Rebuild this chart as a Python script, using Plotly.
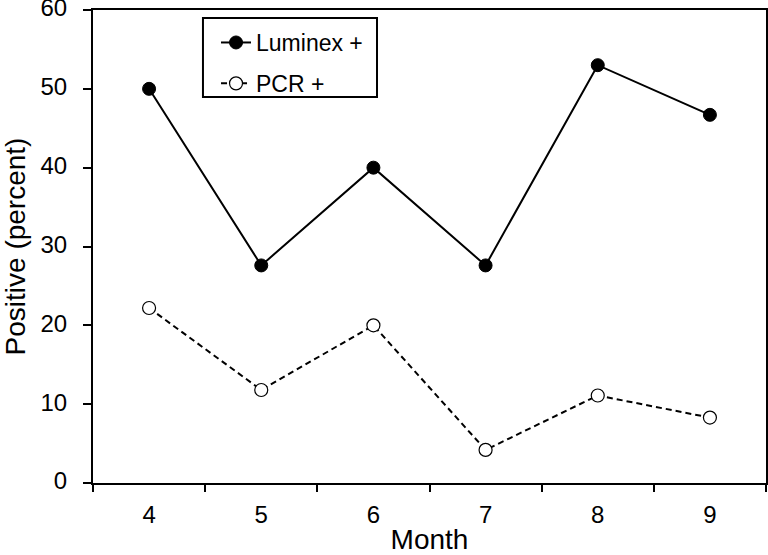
import plotly.graph_objects as go

months = [4, 5, 6, 7, 8, 9]
luminex = [50.0, 27.6, 40.0, 27.6, 53.0, 46.7]
pcr = [22.2, 11.8, 20.0, 4.2, 11.1, 8.3]
y_ticks = [0, 10, 20, 30, 40, 50, 60]
x_bounds = [3.5, 4.5, 5.5, 6.5, 7.5, 8.5, 9.5]

fig = go.Figure()
fig.add_trace(go.Scatter(
    x=months, y=luminex, mode="lines+markers", name="Luminex +",
    legendgroup="a",
    line=dict(color="black", width=2),
    marker=dict(symbol="circle", size=13, color="black", line=dict(color="black", width=1)),
))
fig.add_trace(go.Scatter(
    x=months, y=pcr, mode="lines+markers", name="PCR +",
    legendgroup="b",
    line=dict(color="black", width=2, dash="6px,4px"),
    marker=dict(symbol="circle", size=13, color="white", line=dict(color="black", width=1.2)),
))

# legend frame drawn as a shape (paper coordinates)
fig.add_shape(type="rect", xref="paper", yref="paper",
              x0=0.1634, x1=0.422, y0=0.816, y1=0.983,
              line=dict(color="black", width=2), fillcolor="white", layer="below")

font_family = "Liberation Sans, Arial, sans-serif"
fig.update_layout(
    width=768, height=555,
    margin=dict(l=93, r=2, t=10, b=72),
    paper_bgcolor="white", plot_bgcolor="white",
    font=dict(family=font_family, size=24, color="black"),
    showlegend=True,
    legend=dict(
        x=0.1828, y=0.9767, xanchor="left", yanchor="top",
        borderwidth=0, bgcolor="rgba(0,0,0,0)",
        font=dict(size=23, family=font_family),
        traceorder="grouped", tracegroupgap=8,
    ),
    xaxis=dict(
        range=[3.5, 9.5], tickmode="array", tickvals=months,
        ticktext=[str(m) for m in months],
        showgrid=False, zeroline=False, automargin=False,
        showline=True, linecolor="black", linewidth=2, mirror=True,
        ticks="", tickfont=dict(size=24), ticklabelstandoff=9,
        ticklabeloverflow="allow",
        title=dict(text="Month", font=dict(size=28), standoff=5),
        minor=dict(tickmode="array", tickvals=x_bounds, ticks="outside",
                   ticklen=7, tickwidth=2, tickcolor="black", showgrid=False),
    ),
    yaxis=dict(
        range=[0, 60], tickmode="array", tickvals=y_ticks,
        showgrid=False, zeroline=False, automargin=False,
        showline=True, linecolor="black", linewidth=2, mirror=True,
        ticks="outside", ticklen=8, tickwidth=2, tickcolor="black",
        tickfont=dict(size=24), ticklabelstandoff=11, ticklabelshift=-2,
        ticklabeloverflow="allow",
        title=dict(text="Positive (percent)", font=dict(size=28), standoff=14),
    ),
)

fig.write_html(
    "out.html",
    config={"displayModeBar": False},
    post_script="document.body.style.margin='0';document.body.style.overflow='hidden';",
)
